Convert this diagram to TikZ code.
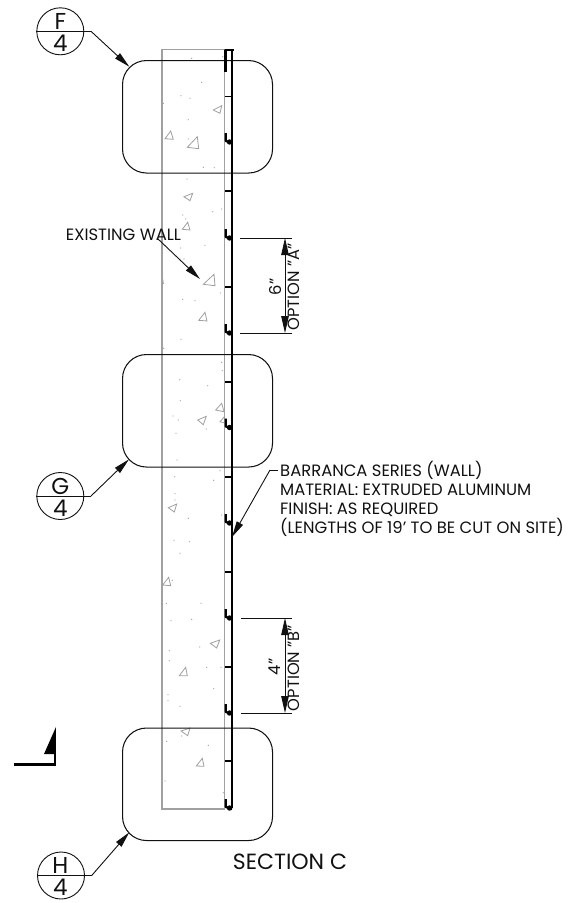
\documentclass[tikz,border=0pt]{standalone}
\usepackage{fontspec}
\setmainfont{Poppins}
\usetikzlibrary{arrows.meta}
\definecolor{wallc}{HTML}{A0A0A0}
\definecolor{ink}{HTML}{111111}
\tikzset{
  wallline/.style={draw=wallc,line width=1.2pt},
  grit/.style={draw=wallc,line width=0.8pt,line join=miter},
  detailbox/.style={draw=ink,line width=1.05pt,rounded corners=24pt},
  bubble/.style={circle,draw=ink,line width=0.9pt,minimum size=47pt,inner sep=0pt},
  bubbletext/.style={font=\fontsize{23}{23}\selectfont,text=ink,inner sep=0pt},
  leader/.style={draw=ink,line width=0.9pt,-{Stealth[inset=0pt,length=16pt,width=7pt]}},
  dimline/.style={draw=ink,line width=0.9pt,{Stealth[inset=0pt,length=17pt,width=7.5pt]}-{Stealth[inset=0pt,length=17pt,width=7.5pt]}},
  extline/.style={draw=ink,line width=0.9pt},
  label/.style={font=\fontsize{16.4}{19}\selectfont,text=ink,inner sep=0pt,align=left},
  rotlabel/.style={font=\fontsize{16.3}{16}\selectfont,text=ink,inner sep=0pt,rotate=90},
  mainwall/.style={draw=black,line width=2.5pt},
  tickmark/.style={draw=black,line width=1.6pt},
  hookmark/.style={draw=black,line width=2.2pt,line join=round},
}
\begin{document}
\begin{tikzpicture}[x=1pt,y=-1pt]
\useasboundingbox (0,0) rectangle (578,903);
% wall
\draw[wallline] (162,49.5) rectangle (224.5,809);
% grit triangles
\foreach \a/\b/\c/\d/\e/\f in {
213.3/110/221.7/105.7/220/113.3, 165/138.7/170.7/131/173.3/139.3,
187.3/147.3/197.3/136.7/198.7/148.7, 184/196.7/192.7/193.3/190/200.7,
182.3/229.3/187.7/222.3/190/230, 203.3/284.3/214/274.3/215/285.7,
198.7/320.3/205/312.3/207/321, 215.7/410/221.7/403.3/224/411.7,
220/421.7/224.3/416.7/226/423.3, 197.7/420/206.3/416.3/203.3/424.7,
168.3/507.7/176.7/504/174.3/512, 162.7/585/168.7/577.3/170.7/585.7,
210.3/643.3/219.7/640/216.7/648, 179.3/675.7/185.7/667.3/187.3/675.7,
181/731/190/728/187.7/735.7, 196.3/766/202.3/758.3/204/766.3}
  {\draw[grit] (\a,\b) -- (\c,\d) -- (\e,\f) -- cycle;}
% grit dots
\foreach \p/\q in {
191.7/58.3,222.7/56.7,201.7/82.3,181/95.7,190/98.3,163.3/103.3,188.3/119.7,188.3/139,203.3/167.3,214.3/167.7,
187/179,182.7/215,185.7/219,212.7/211.7,221.7/209,205/245.3,180.7/248,180/259.3,184/259,220.3/293,182.7/299.3,195/300.7,181/339.3,163.7/348.3,
221.7/362.3,222.3/370.7,179.7/379.7,207.7/385.7,180.3/400.7,173/416,178.3/420,206.3/429,176/433.3,177/460,220/470.7,174.7/476.7,213.7/480.3,175/493.7,175/500,188.3/518.3,221.7/515,
174/540.3,189.7/541.7,180/553.3,172.3/580.3,166.3/603.3,201/603.3,171/620.7,191.7/619.3,199.7/647,169.3/650.7,169.3/660.7,206.7/667.3,221/667.3,213.7/688.7,168/694.7,168/700.7,180/706.3,
166.7/741.3,181.7/736,208.3/745.3,165/781,223.3/792.7}
  {\fill[wallc] (\p,\q) circle[radius=0.65pt];}
\draw[wallc,line width=0.8pt] (162.5,278) -- (163.5,284);
% detail boxes
\node[detailbox,minimum width=150pt,minimum height=112.5pt,anchor=north west] (boxF) at (122,60) {};
\node[detailbox,minimum width=150pt,minimum height=112.5pt,anchor=north west] (boxG) at (122,354) {};
\node[detailbox,minimum width=150pt,minimum height=112.5pt,anchor=north west] (boxH) at (122,727.5) {};
% extrusion
\draw[mainwall] (232,49.5) -- (232,808);
\draw[hookmark] (233.5,49.8) -- (225.5,49.8) -- (225.5,72);
\foreach \y in {96.5,191,287,382,477,572,667,761}
  {\draw[tickmark] (225,\y) -- (232,\y);}
\foreach \y in {142,238,333,427.5,523,618,713,808}
  {\draw[hookmark] (225.8,\y-9) -- (225.8,\y-1) -- (232,\y+1);
   \fill[black] (229.5,\y) circle[radius=2.7pt];}
% bubbles
\node[bubble] (bF) at (60.3,31.3) {};
\node[bubble] (bG) at (60.3,496) {};
\node[bubble] (bH) at (61,875.5) {};
\node[bubbletext] (tF) at (60.3,21) {F};
\node[bubbletext] (nF) at (60.3,43) {4};
\node[bubbletext] (tG) at (60.3,486) {G};
\node[bubbletext] (nG) at (60.3,508) {4};
\node[bubbletext] (tH) at (60.3,865) {H};
\node[bubbletext] (nH) at (60.3,887) {4};
\coordinate (kF) at (91,31.3);
\coordinate (kG) at (91,496);
\coordinate (kH) at (91.7,875.5);
\coordinate (tipF) at (129.3,66.7);
\coordinate (tipG) at (129,459.3);
\coordinate (tipH) at (129.3,832.3);
\draw[extline] (bF.west) -- (kF);
\draw[extline] (bG.west) -- (kG);
\draw[extline] (bH.west) -- (kH);
\draw[leader] (kF) -- (tipF);
\draw[leader] (kG) -- (tipG);
\draw[leader] (kH) -- (tipH);
% existing wall
\node[label,anchor=center] (existing) at (123.5,235) {EXISTING WALL};
\coordinate (exA) at (157,238);
\coordinate (exB) at (200,279);
\draw[leader] (exA) -- (exB);
% barranca
\node[label,anchor=north west] (barranca) at (280,461) {BARRANCA SERIES (WALL)\\MATERIAL: EXTRUDED ALUMINUM\\FINISH: AS REQUIRED\\(LENGTHS OF 19' TO BE CUT ON SITE)};
\coordinate (bKnee) at (270,470);
\coordinate (bEnd) at (278,470);
\coordinate (bTip) at (232,537);
\draw[extline] (bEnd) -- (bKnee);
\draw[leader] (bKnee) -- (bTip);
% dimensions
\coordinate (a1) at (240,238); \coordinate (a2) at (292,238);
\coordinate (a3) at (240,333); \coordinate (a4) at (292,333);
\coordinate (a5) at (285,238); \coordinate (a6) at (285,333);
\draw[extline] (a1) -- (a2);
\draw[extline] (a3) -- (a4);
\draw[dimline] (a5) -- (a6);
\node[rotlabel] (six) at (275,287) {6"};
\node[rotlabel] (optA) at (293.5,287) {OPTION "A"};
\coordinate (c1) at (241,618); \coordinate (c2) at (292,618);
\coordinate (c3) at (241,713); \coordinate (c4) at (292,713);
\coordinate (c5) at (285,618); \coordinate (c6) at (285,713);
\draw[extline] (c1) -- (c2);
\draw[extline] (c3) -- (c4);
\draw[dimline] (c5) -- (c6);
\node[rotlabel] (four) at (275,667) {4"};
\node[rotlabel] (optB) at (293.5,668) {OPTION "B"};
% section mark
\draw[black,line width=2.6pt] (13.7,764.7) -- (55.8,764.7);
\draw[black,line width=2pt] (55,765) -- (55,752);
\fill[black] (55.8,727.3) -- (44,754) -- (55.8,754) -- cycle;
\node[font=\fontsize{22}{22}\selectfont,text=ink,inner sep=0pt] (title) at (290,862) {SECTION C};
\end{tikzpicture}
\end{document}
